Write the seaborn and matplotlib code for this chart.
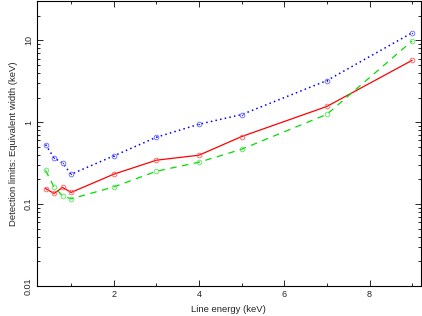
import matplotlib
matplotlib.use("Agg")
import matplotlib.pyplot as plt
import seaborn as sns
import pandas as pd
import numpy as np
from matplotlib.ticker import FixedLocator, NullFormatter, LogLocator, FixedFormatter

energy = [0.4, 0.6, 0.8, 1.0, 2.0, 3.0, 4.0, 5.0, 7.0, 9.0]
red_vals = [0.155, 0.135, 0.160, 0.139, 0.232, 0.344, 0.396, 0.669, 1.56, 5.71]
green_vals = [0.259, 0.162, 0.126, 0.116, 0.162, 0.252, 0.325, 0.468, 1.25, 9.84]
blue_vals = [0.534, 0.367, 0.318, 0.232, 0.388, 0.656, 0.946, 1.24, 3.23, 12.4]

x_major = [2, 4, 6, 8]
x_minor = [1, 3, 5, 7, 9]
y_major = [0.01, 0.1, 1, 10]
y_labels = ["0.01", "0.1", "1", "10"]

sns.set_style("ticks")
plt.rcParams['font.family'] = ['Liberation Sans', 'DejaVu Sans']
plt.rcParams['xtick.direction'] = 'in'
plt.rcParams['ytick.direction'] = 'in'

fig = plt.figure(figsize=(4.22, 3.16), dpi=100)
ax = fig.add_axes([37/422, 30/316, (420.7-37)/422, (286-1.3)/316])

df = pd.DataFrame({"energy": energy, "red": red_vals, "green": green_vals, "blue": blue_vals})

mk = dict(marker="o", markersize=3.4, markerfacecolor="none", markeredgewidth=0.6)

sns.lineplot(data=df, x="energy", y="red", ax=ax, color="#ff0000", lw=0.9,
             markeredgecolor=(1, 0.35, 0.35), **mk)
sns.lineplot(data=df, x="energy", y="green", ax=ax, color="#00dd00", lw=0.9,
             markeredgecolor=(0.35, 0.9, 0.35), **mk)
ax.lines[-1].set_dashes([5.2, 4.4])
sns.lineplot(data=df, x="energy", y="blue", ax=ax, color="#0000ff", lw=1.1,
             markeredgecolor=(0.4, 0.4, 1.0), **mk)
ax.lines[-1].set_dashes([1, 2.1])
sns.scatterplot(data=df, x="energy", y="blue", ax=ax, color="#3030ff", s=1.0,
                linewidth=0, zorder=5)

ax.set_yscale("log")
ax.set_xlim(0.2, 9.2)
ax.set_ylim(0.01, 30)

ax.xaxis.set_major_locator(FixedLocator(x_major))
ax.xaxis.set_minor_locator(FixedLocator(x_minor))
ax.xaxis.set_minor_formatter(NullFormatter())
ax.yaxis.set_major_locator(FixedLocator(y_major))
ax.yaxis.set_major_formatter(FixedFormatter(y_labels))
ax.yaxis.set_minor_locator(LogLocator(base=10, subs=np.arange(2, 10)))
ax.yaxis.set_minor_formatter(NullFormatter())

ax.tick_params(which="both", top=True, right=True, labelsize=6.5, width=0.7, pad=3)
ax.tick_params(which="major", length=4)
ax.tick_params(which="minor", length=2)
for lab in ax.get_yticklabels():
    lab.set_rotation(90)
    lab.set_va("center")

for s in ax.spines.values():
    s.set_linewidth(0.8)
    s.set_color("black")

ax.set_xlabel("Line energy (keV)", fontsize=6.8, labelpad=4)
ax.set_ylabel("Detection limits: Equivalent width (keV)", fontsize=6.8, labelpad=4)

fig.savefig("out.png", dpi=100)
